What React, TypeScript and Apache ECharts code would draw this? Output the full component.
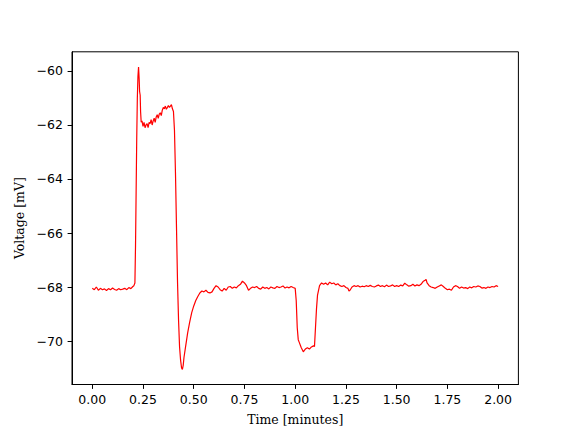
import React, { useEffect, useRef } from "react";
import * as echarts from "echarts";

const times: number[] = [
  0.0, 0.01, 0.02, 0.03, 0.04, 0.05, 0.06, 0.07, 0.08, 0.09, 0.1, 0.11, 0.12, 0.13, 0.14, 0.15, 0.16, 0.17, 0.18, 0.19, 0.2,
  0.205, 0.21, 0.213, 0.216, 0.219, 0.222, 0.225, 0.228, 0.231, 0.233, 0.236, 0.238, 0.241, 0.245, 0.25, 0.255, 0.26, 0.265,
  0.27, 0.275, 0.28, 0.285, 0.29, 0.295, 0.3, 0.305, 0.31, 0.315, 0.32, 0.325, 0.33, 0.335, 0.34, 0.345, 0.35, 0.355, 0.36,
  0.365, 0.37, 0.375, 0.38, 0.385, 0.39, 0.395, 0.4, 0.405, 0.41, 0.415, 0.42, 0.425, 0.43, 0.435, 0.44, 0.444, 0.448, 0.452,
  0.46, 0.47, 0.48, 0.49, 0.5, 0.51, 0.52, 0.53, 0.54, 0.55, 0.56, 0.57, 0.58, 0.59, 0.6, 0.61, 0.62, 0.63, 0.64, 0.65, 0.66,
  0.67, 0.68, 0.69, 0.7, 0.71, 0.72, 0.73, 0.74, 0.75, 0.76, 0.77, 0.78, 0.79, 0.8, 0.81, 0.82, 0.83, 0.84, 0.85, 0.86, 0.87,
  0.88, 0.89, 0.9, 0.91, 0.92, 0.93, 0.94, 0.95, 0.96, 0.97, 0.98, 0.99, 1.0, 1.005, 1.01, 1.015, 1.02, 1.03, 1.04, 1.045,
  1.05, 1.06, 1.07, 1.08, 1.09, 1.095, 1.1, 1.105, 1.11, 1.12, 1.13, 1.14, 1.15, 1.16, 1.17, 1.18, 1.19, 1.2, 1.21, 1.22,
  1.23, 1.24, 1.25, 1.26, 1.265, 1.27, 1.28, 1.29, 1.3, 1.31, 1.32, 1.33, 1.34, 1.35, 1.36, 1.37, 1.38, 1.39, 1.4, 1.41,
  1.42, 1.43, 1.44, 1.45, 1.46, 1.47, 1.48, 1.49, 1.5, 1.51, 1.52, 1.53, 1.54, 1.55, 1.56, 1.57, 1.58, 1.59, 1.6, 1.61,
  1.62, 1.63, 1.64, 1.645, 1.65, 1.66, 1.67, 1.68, 1.69, 1.7, 1.71, 1.72, 1.73, 1.74, 1.75, 1.76, 1.77, 1.78, 1.79, 1.8,
  1.81, 1.82, 1.83, 1.84, 1.85, 1.86, 1.87, 1.88, 1.89, 1.9, 1.91, 1.92, 1.93, 1.94, 1.95, 1.96, 1.97, 1.98, 1.99, 2.0,
];

const voltages: number[] = [
  -68.05, -68.1, -68.0, -68.12, -68.05, -68.1, -68.07, -68.13, -68.06, -68.1, -68.04, -68.09, -68.12, -68.06, -68.1, -68.08,
  -68.05, -68.1, -68.02, -68.06, -67.98,
  -67.95, -67.85, -66.5, -64.5, -62.5, -61.0, -60.2, -59.85, -60.3, -60.75, -60.9, -61.5, -61.9, -61.85, -62.05, -61.9,
  -62.1, -62.0, -61.95, -62.1, -61.9, -61.95, -61.8, -62.0, -61.85, -61.75, -61.9, -61.7, -61.62, -61.75, -61.6, -61.55,
  -61.65, -61.45, -61.35, -61.4, -61.3, -61.42, -61.35, -61.28, -61.35, -61.3, -61.25, -61.4, -61.5, -62.2, -63.8, -65.8,
  -67.8, -69.2, -70.2, -70.7, -71.0, -71.05, -70.9, -70.6,
  -70.2, -69.7, -69.3, -68.95, -68.7, -68.5, -68.35, -68.22, -68.15, -68.18, -68.12, -68.2, -68.22, -68.18, -68.05, -67.95,
  -68.0, -68.1, -68.15, -68.05, -68.12,
  -68.0, -67.98, -68.05, -68.0, -68.03, -67.95, -67.9, -67.78, -67.85, -67.95, -68.12, -68.05, -68.0, -68.02, -67.98, -68.05,
  -68.08, -68.0, -68.05, -68.02, -68.07,
  -68.0, -68.03, -68.05, -67.98, -68.02, -68.0, -67.96, -68.04, -68.0, -68.03, -67.98, -68.02, -68.05, -68.5, -69.5, -69.95,
  -70.05, -70.25, -70.4, -70.35,
  -70.3, -70.25, -70.3, -70.22, -70.18, -70.2, -69.5, -68.8, -68.3, -67.95, -67.85, -67.9, -67.85, -67.92, -67.82, -67.88,
  -67.85, -67.92, -67.88, -67.95,
  -67.98, -67.95, -68.02, -68.05, -68.15, -68.12, -68.0, -67.95, -67.98, -67.95, -68.0, -67.97, -67.99, -67.95, -67.98,
  -67.94, -67.98, -68.0, -67.96, -67.93,
  -67.98, -67.95, -67.99, -67.93, -67.98, -67.96, -67.92, -67.98, -67.95, -67.98, -67.93, -67.96, -67.86, -67.92, -67.97,
  -67.95, -67.9, -67.96, -67.92, -67.95,
  -67.9, -67.8, -67.75, -67.72, -67.85, -67.95, -68.0, -68.02, -68.05, -68.0, -67.96, -67.92, -67.98, -68.05, -68.1, -68.08,
  -68.12, -68.0, -67.95, -67.98,
  -68.05, -68.0, -68.04, -68.02, -68.06, -68.0, -68.03, -67.98, -68.0, -67.96, -67.98, -68.04, -68.02, -68.05, -68.0,
  -68.02, -67.98, -68.0, -67.95, -67.98,
];

const xTicks: number[] = [0, 0.25, 0.5, 0.75, 1.0, 1.25, 1.5, 1.75, 2.0];
const yTicks: number[] = [-70, -68, -66, -64, -62, -60];

export default function App() {
  const ref = useRef<HTMLDivElement>(null);
  useEffect(() => {
    document.body.style.margin = "0";
    if (!ref.current) return;
    const chart = echarts.init(ref.current, null, { renderer: "svg" });
    const data = times.map((t, i) => [t, voltages[i]]);
    const tickFont = { fontFamily: "DejaVu Sans", fontSize: 12.5, color: "#000" };
    chart.setOption({
      animation: false,
      backgroundColor: "#fff",
      grid: {
        left: 72,
        right: 57.6,
        top: 51.8,
        bottom: 47.5,
        show: true,
        borderColor: "#000",
        borderWidth: 1,
        backgroundColor: "transparent",
      },
      xAxis: {
        type: "value",
        min: -0.1,
        max: 2.1,
        name: "Time [minutes]",
        nameLocation: "middle",
        nameGap: 28,
        nameTextStyle: { fontFamily: "DejaVu Serif", fontSize: 12.5, color: "#000" },
        axisLine: { show: true, onZero: false, lineStyle: { color: "#000", width: 1 } },
        axisTick: { show: true, customValues: xTicks, length: 4.4, lineStyle: { color: "#000" } },
        axisLabel: {
          ...tickFont,
          customValues: xTicks,
          margin: 8,
          formatter: (v: number) => v.toFixed(2),
        },
        splitLine: { show: false },
      },
      yAxis: {
        type: "value",
        min: -71.61,
        max: -59.29,
        name: "Voltage [mV]",
        nameLocation: "middle",
        nameGap: 41,
        nameTextStyle: { fontFamily: "DejaVu Serif", fontSize: 12.5, color: "#000" },
        axisLine: { show: true, onZero: false, lineStyle: { color: "#000", width: 1 } },
        axisTick: { show: true, customValues: yTicks, length: 4.4, lineStyle: { color: "#000" } },
        axisLabel: {
          ...tickFont,
          customValues: yTicks,
          margin: 9,
          formatter: (v: number) => (v < 0 ? "\u2212" + Math.abs(v) : String(v)),
        },
        splitLine: { show: false },
      },
      series: [
        {
          type: "line",
          data,
          showSymbol: false,
          symbol: "none",
          lineStyle: { color: "#ff0000", width: 1.2 },
          itemStyle: { color: "#ff0000" },
        },
      ],
    });
    return () => chart.dispose();
  }, []);
  return <div ref={ref} style={{ width: 576, height: 432 }} />;
}
